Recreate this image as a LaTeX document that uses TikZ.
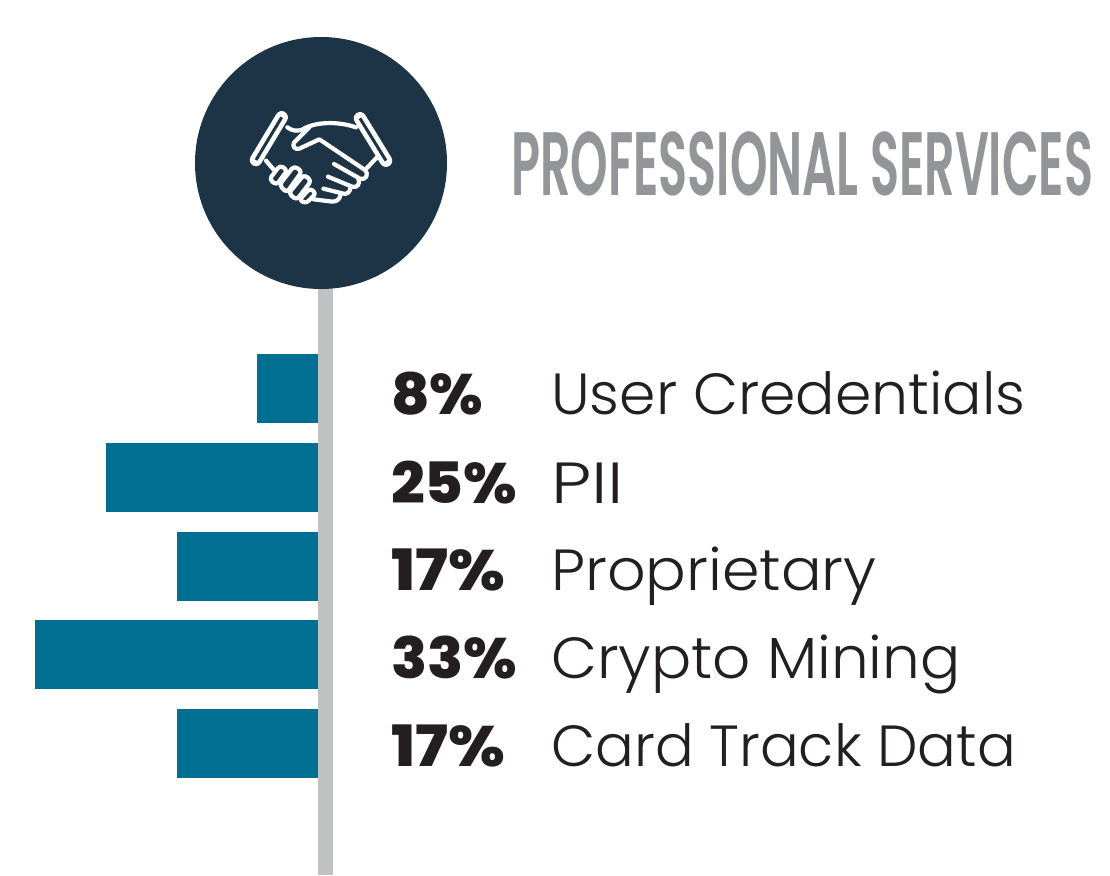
\documentclass[tikz,border=0pt]{standalone}
\usepackage{fontspec}
\setmainfont{Poppins}
\newfontfamily\lightfont{Poppins Light}
\newfontfamily\heavyfont{Poppins ExtraBold}
\newfontfamily\semifont{Poppins SemiBold}
\definecolor{navy}{HTML}{1D3446}
\definecolor{teal}{HTML}{006F92}
\definecolor{pole}{HTML}{BFC1C3}
\definecolor{ttl}{HTML}{939598}
\definecolor{ink}{HTML}{231F20}
\tikzset{
  bar/.style={fill=teal,draw=none,inner sep=0pt,outer sep=0pt,anchor=east,minimum height=69pt},
  pct/.style={anchor=base west,inner sep=0pt,text=ink,font=\fontsize{57}{57}\selectfont\heavyfont,xscale=1.04,transform shape},
  lab/.style={anchor=base west,inner sep=0pt,text=ink,font=\fontsize{58}{58}\selectfont\lightfont,transform shape},
  ico/.style={draw=white,line width=4.2pt,line cap=round,line join=round,fill=none},
}
\begin{document}
\begin{tikzpicture}[x=1pt,y=-1pt]
\useasboundingbox (0,0) rectangle (1110,875);
\fill[white] (0,0) rectangle (1110,875);
\node[fill=pole,inner sep=0pt,minimum width=15pt,minimum height=600pt,anchor=north] (pole) at (325.5,275) {};
\node[circle,fill=navy,inner sep=0pt,minimum size=252pt] (disc) at (321,163) {};
\node[bar,minimum width=61pt] (b1) at (318,388.5) {};
\node[bar,minimum width=212pt] (b2) at (318,477.5) {};
\node[bar,minimum width=141pt] (b3) at (318,566.5) {};
\node[bar,minimum width=283pt] (b4) at (318,654.5) {};
\node[bar,minimum width=141pt] (b5) at (318,743.5) {};
\node[pct] (p1) at (391,414) {8\%};
\node[pct] (p2) at (391,503) {25\%};
\node[pct,xscale=1.06] (p3) at (391,590) {17\%};
\node[pct] (p4) at (391,678) {33\%};
\node[pct,xscale=1.06] (p5) at (391,766) {17\%};
\node[lab,xscale=1.008] (l1) at (551,414) {User Credentials};
\node[lab,xscale=1.23] (l2) at (551,503) {PII};
\node[lab,xscale=1.04] (l3) at (551,590) {Proprietary};
\node[lab,xscale=1.028] (l4) at (551,678) {Crypto Mining};
\node[lab,xscale=0.99] (l5) at (551,766) {Card Track Data};
\node[anchor=base west,inner sep=0pt,text=ttl,font=\fontsize{90}{90}\selectfont\semifont,xscale=0.53,transform shape] (title) at (511,195) {PROFESSIONAL SERVICES};
\begin{scope}[shift={(230,90)},x=0.3333pt,y=-0.3333pt]
  % cuffs
  \draw[white,line width=12.5pt,line cap=round] (155,82) -- (78,210);
  \draw[navy,line width=3pt] (155,82) -- (78,210);
  \draw[white,line width=12.5pt,line cap=round] (390,85) -- (468,212);
  \draw[navy,line width=3pt] (390,85) -- (468,212);
  % top outline
  \draw[ico] (172,112) .. controls (185,122) and (200,124) .. (215,120);
  \draw[ico] (215,120) .. controls (250,96) and (320,92) .. (378,112);
  % right hand with thumb
  \draw[ico] (238,112) -- (192,158) .. controls (186,170) and (195,180) .. (208,176) -- (268,148) -- (405,240)
     .. controls (418,252) and (408,272) .. (390,266) -- (312,222);
  \draw[ico] (385,266) .. controls (392,280) and (382,296) .. (366,290) -- (294,260);
  \draw[ico] (362,290) .. controls (362,306) and (350,316) .. (336,310) -- (280,296);
  \draw[ico] (332,310) .. controls (332,325) and (322,335) .. (308,335) -- (250,328);
  % wrists
  \draw[ico] (440,203) -- (410,235);
  \draw[ico] (108,212) -- (132,240);
  % left fingers
  \draw[ico,rounded corners=3.5pt] (118,268) -- (150,226) -- (172,240) -- (140,285) -- cycle;
  \draw[ico,rounded corners=3.5pt] (148,285) -- (192,228) -- (216,244) -- (170,308) -- cycle;
  \draw[ico,rounded corners=3.5pt] (176,310) -- (222,254) -- (244,272) -- (200,330) -- cycle;
  \draw[ico,rounded corners=3pt] (208,330) -- (240,295) -- (258,310) -- (228,340) -- cycle;
\end{scope}
\end{tikzpicture}
\end{document}
